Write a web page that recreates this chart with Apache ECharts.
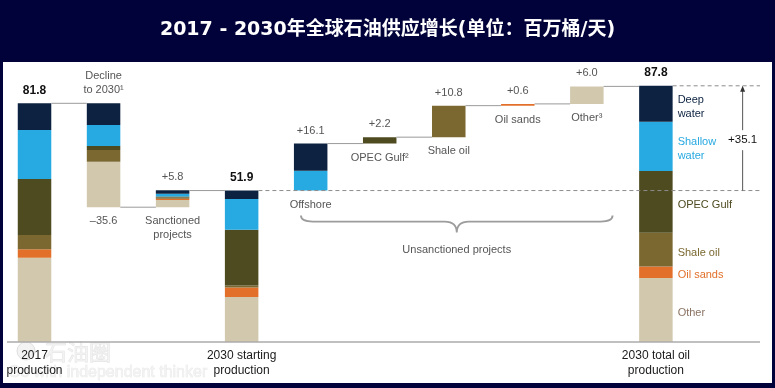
<!DOCTYPE html>
<html><head><meta charset="utf-8">
<script src="https://cdn.jsdelivr.net/npm/echarts@6/dist/echarts.min.js"></script>
<style>html,body{margin:0;padding:0;background:#02023a;} #c{width:775px;height:388px;}</style>
</head><body><div id="c"></div>
<script>
const titleText = '2017 - 2030年全球石油供应增长(单位：百万桶/天)';
const categories = ['2017','Decline','Sanctioned','2030 start','Offshore','OPEC Gulf','Shale oil','Oil sands','Other','2030 total'];
const bottomLabels = ['2017\nproduction','','','2030 starting\nproduction','','','','','','2030 total oil\nproduction'];
const baseVals     = [0,    46.2, 46.2, 0,    51.9, 68.0, 70.2, 81.0, 81.6, 0];
const deepWater    = [9.15, 7.4,  1.2,  2.9,  9.3,  0,    0,    0,    0,    12.3];
const shallowWater = [16.8, 7.2,  0.9,  10.5, 6.8,  0,    0,    0,    0,    16.9];
const opecGulf     = [19.2, 1.4,  0.4,  19.1, 0,    2.2,  0,    0,    0,    21.2];
const shaleOil     = [4.9,  4.0,  0.4,  0.7,  0,    0,    10.8, 0,    0,    11.5];
const oilSands     = [2.85, 0,    0.4,  3.3,  0,    0,    0,    0.6,  0,    4.0];
const otherVals    = [28.9, 15.6, 2.5,  15.4, 0,    0,    0,    0,    6.0,  21.9];
const topLabels    = ['81.8','Decline\nto 2030¹','+5.8','51.9','+16.1','+2.2','+10.8','+0.6','+6.0','87.8'];
const bottomNotes  = ['','–35.6','Sanctioned\nprojects','','Offshore','OPEC Gulf²','Shale oil','Oil sands','Other³',''];
const totalIdx     = [0, 3, 9];
const segmentNames = ['Deep\nwater','Shallow\nwater','OPEC Gulf','Shale oil','Oil sands','Other'];
const unsanctionedTotal = '+35.1';
const braceLabel = 'Unsanctioned projects';
const watermark1 = '石油圈';
const watermark2 = 'Go with independent thinker';

const COLORS = {deep:'#0c2240', shallow:'#27a9e1', opec:'#4e4b20', shale:'#7a6830', sands:'#e2702a', other:'#d1c8ad'};
const LABEL_COLORS = ['#0c2240','#27a9e1','#4e4b20','#7a6830','#e2702a','#8a7363'];
const FONT = '"Liberation Sans", Arial, Helvetica, sans-serif';
const BAR_W = 33.5;
const END_X = 760;

const segs = [otherVals, oilSands, shaleOil, opecGulf, shallowWater, deepWater]; // bottom -> top
const segColors = [COLORS.other, COLORS.sands, COLORS.shale, COLORS.opec, COLORS.shallow, COLORS.deep];
const tops = categories.map((c,i)=> baseVals[i] + segs.reduce((s,a)=>s+a[i],0));

const chart = echarts.init(document.getElementById('c'), null, {renderer:'canvas'});

function txt(x, y, text, o) {
  o = o || {};
  return {type:'text', x:x, y:y, z2: 10, style:{
    text:text, fill:o.fill||'#555', font:(o.weight||'normal')+' '+(o.size||11)+'px '+FONT,
    align:o.align||'center', verticalAlign:o.va||'middle',
    textAlign:o.align||'center', textVerticalAlign:o.va||'middle',
    lineHeight:o.lh||14, backgroundColor:o.bg, padding:o.pad
  }};
}

function renderOverlay(params, api) {
  const half = BAR_W/2;
  const X = i => api.coord([i, 0])[0];
  const Y = v => api.coord([0, v])[1];
  const els = [];
  const lineStyle = {stroke:'#9a9a9a', lineWidth:1};
  const dashStyle = {stroke:'#8c8c8c', lineWidth:1, lineDash:[4,3]};
  els.push({type:'line', shape:{x1:7, y1:Y(0), x2:END_X, y2:Y(0)}, style:{stroke:'#ababab', lineWidth:1.3}});
  const conn = [[0,1,tops[0]],[1,2,baseVals[1]],[2,3,tops[3]],[4,5,tops[4]],[5,6,tops[5]],[6,7,tops[6]],[7,8,tops[7]],[8,9,tops[8]]];
  conn.forEach(c=>{
    els.push({type:'line', shape:{x1:X(c[0])+half, y1:Y(c[2]), x2:X(c[1])-half, y2:Y(c[2])}, style:lineStyle});
  });
  els.push({type:'line', shape:{x1:X(3)+half, y1:Y(tops[3]), x2:END_X, y2:Y(tops[3])}, style:dashStyle, z2:-1});
  els.push({type:'line', shape:{x1:X(9)+half, y1:Y(tops[9]), x2:END_X, y2:Y(tops[9])}, style:dashStyle});
  const ax = X(9) + half + 70;
  const yA = Y(tops[3]), yB = Y(tops[9]);
  els.push({type:'line', shape:{x1:ax, y1:yA, x2:ax, y2:yB+4}, style:{stroke:'#555', lineWidth:1}});
  els.push({type:'polygon', shape:{points:[[ax, yB], [ax-2.5, yB+6], [ax+2.5, yB+6]]}, style:{fill:'#333'}});
  els.push(txt(ax, (yA+yB)/2 + 2, unsanctionedTotal, {fill:'#111', size:11.5, bg:'#fff', pad:[3,1]}));
  topLabels.forEach((t,i)=>{
    const isTot = totalIdx.indexOf(i) >= 0;
    els.push(txt(X(i), Y(tops[i]) - 6, t, isTot ? {fill:'#111', size:12, weight:'bold', va:'bottom'} : {fill:'#555', size:11, va:'bottom'}));
  });
  bottomNotes.forEach((t,i)=>{
    if (!t) return;
    els.push(txt(X(i), Y(baseVals[i]) + 7, t, {fill:'#555', size:11, va:'top'}));
  });
  const li = 9; let acc = baseVals[li];
  const midVals = [];
  segs.forEach((a)=>{ midVals.push(acc + a[li]/2); acc += a[li]; });
  for (let k=0;k<6;k++){
    const segIdx = 5-k;
    els.push(txt(X(li)+half+5, Y(midVals[segIdx]) + 3, segmentNames[k], {fill:LABEL_COLORS[k], size:11, align:'left'}));
  }
  const x1 = X(4) - half + 7, x2 = X(8) + half + 9, xm = (x1+x2)/2;
  const by = Y(tops[3]) + 31;
  const pd = 'M'+x1+' '+(by-6)+' Q'+x1+' '+by+' '+(x1+12)+' '+by+' L'+(xm-12)+' '+by+' Q'+xm+' '+by+' '+xm+' '+(by+11)+
             ' Q'+xm+' '+by+' '+(xm+12)+' '+by+' L'+(x2-12)+' '+by+' Q'+x2+' '+by+' '+x2+' '+(by-6);
  els.push({type:'path', shape:{pathData:pd}, style:{stroke:'#9c9c9c', lineWidth:1.8, fill:null}});
  els.push(txt(xm, by + 28, braceLabel, {fill:'#555', size:11}));
  return {type:'group', children:els};
}

const barSeries = [{
  type:'bar', stack:'w', data:baseVals, barWidth:BAR_W, silent:true,
  itemStyle:{color:'rgba(0,0,0,0)'}
}].concat(segs.map((a,k)=>({
  type:'bar', stack:'w', data:a, barWidth:BAR_W, silent:true,
  itemStyle:{color:segColors[k]}
})));

chart.setOption({
  animation:false,
  backgroundColor:'#02023a',
  grid:{left:-2, width:692.4, top:50.2, bottom:46, containLabel:false},
  xAxis:{type:'category', data:categories, axisLine:{show:false}, axisTick:{show:false},
    axisLabel:{interval:0, margin:6, formatter:(v,i)=>bottomLabels[i], color:'#1a1a1a', fontSize:12, lineHeight:15, fontFamily:FONT}},
  yAxis:{type:'value', min:0, max:100, show:false, splitLine:{show:false}},
  graphic:[
    {type:'rect', z:-10, shape:{x:3, y:62, width:769, height:321}, style:{fill:'#ffffff'}},
    {type:'text', z:-5, x:45, y:352, style:{text:watermark1, fill:'rgba(238,238,238,0.7)', stroke:'rgba(200,200,200,0.55)', lineWidth:0.6, font:'22px "Noto Sans CJK SC"', verticalAlign:'middle', textVerticalAlign:'middle'}},
    {type:'circle', z:-5, shape:{cx:26, cy:351, r:9}, style:{fill:'rgba(238,238,238,0.7)', stroke:'rgba(205,205,205,0.6)'}},
    {type:'text', z:-5, x:8, y:373, style:{text:watermark2, fill:'rgba(240,240,240,0.8)', stroke:'rgba(205,205,205,0.55)', lineWidth:0.5, font:'16px '+FONT, verticalAlign:'middle', textVerticalAlign:'middle'}},
    {type:'text', left:'center', top:21, style:{text:titleText, fill:'#ffffff', font:'bold 19px "DejaVu Sans", "Noto Sans CJK SC", sans-serif'}}
  ],
  series: barSeries.concat([{
    type:'custom', data:[[0,0]], renderItem:renderOverlay, silent:true, clip:false, z:5,
    encode:{x:0, y:1}
  }])
});
</script></body></html>
